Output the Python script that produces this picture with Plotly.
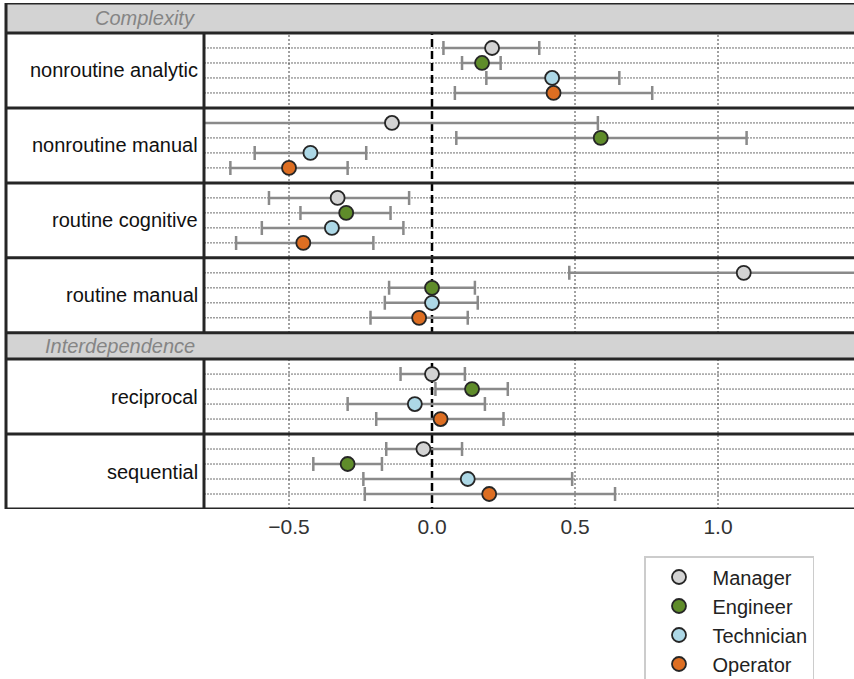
import plotly.graph_objects as go

# ---------------- data ----------------
groups = ["Complexity", "Interdependence"]
categories = ["nonroutine analytic", "nonroutine manual", "routine cognitive",
              "routine manual", "reciprocal", "sequential"]
category_group = ["Complexity", "Complexity", "Complexity", "Complexity",
                  "Interdependence", "Interdependence"]
roles = ["Manager", "Engineer", "Technician", "Operator"]
role_colors = ["#d3d3d3", "#5f8c2a", "#add8e6", "#dd6e22"]

estimate = {
    "Manager":    [0.21, -0.14, -0.33, 1.09, 0.00, -0.03],
    "Engineer":   [0.175, 0.59, -0.30, 0.00, 0.14, -0.295],
    "Technician": [0.42, -0.425, -0.35, 0.00, -0.06, 0.125],
    "Operator":   [0.425, -0.50, -0.45, -0.045, 0.03, 0.20],
}
lower = {
    "Manager":    [0.04, -0.86, -0.57, 0.48, -0.11, -0.16],
    "Engineer":   [0.105, 0.085, -0.46, -0.15, 0.012, -0.415],
    "Technician": [0.19, -0.62, -0.595, -0.165, -0.295, -0.24],
    "Operator":   [0.08, -0.705, -0.685, -0.215, -0.195, -0.235],
}
upper = {
    "Manager":    [0.375, 0.58, -0.08, 1.70, 0.115, 0.105],
    "Engineer":   [0.24, 1.10, -0.145, 0.15, 0.265, -0.175],
    "Technician": [0.655, -0.23, -0.10, 0.16, 0.185, 0.49],
    "Operator":   [0.77, -0.295, -0.205, 0.125, 0.25, 0.64],
}
xticks = [-0.5, 0.0, 0.5, 1.0]
xtick_labels = ["\u22120.5", "0.0", "0.5", "1.0"]

# ---------------- layout geometry (row units) ----------------
W, H = 854, 679
HEADER_H = {"Complexity": 2.0, "Interdependence": 1.75}
PANEL_H = 5.0
FONT = "Liberation Sans, Arial, sans-serif"
DARK = "#262626"

# compute y layout
header_pos = {}
panel_top = []
y = 0.0
prev_group = None
for cat, g in zip(categories, category_group):
    if g != prev_group:
        header_pos[g] = (y, y + HEADER_H[g])
        y += HEADER_H[g]
        prev_group = g
    panel_top.append(y)
    y += PANEL_H
y_total = y

top_px, bottom_px = 3, 509
left_px, divider_px = 6, 204
x_left = (divider_px - 432) / 286
x_right = (W - 432) / 286

fig = go.Figure()

for ri, role in enumerate(roles):
    ys = [pt + 1 + ri for pt in panel_top]
    est = estimate[role]
    fig.add_trace(go.Scatter(
        x=est, y=ys, mode="markers", name=role, legendgroup=role,
        marker=dict(size=14, color=role_colors[ri], line=dict(color=DARK, width=1.8)),
        error_x=dict(type="data", symmetric=False,
                     array=[u - e for u, e in zip(upper[role], est)],
                     arrayminus=[e - l for e, l in zip(est, lower[role])],
                     color="#8a8a8a", thickness=2.5, width=7),
        cliponaxis=True,
    ))

shapes = []
# horizontal dotted row gridlines
for pt in panel_top:
    for ri in range(len(roles)):
        shapes.append(dict(type="line", xref="x domain", yref="y", x0=0, x1=1,
                           y0=pt + 1 + ri, y1=pt + 1 + ri, layer="below",
                           line=dict(color="#6e6e6e", width=1, dash="2px,1px")))
# vertical dotted gridlines
for t in xticks:
    if t != 0:
        shapes.append(dict(type="line", xref="x", yref="y", x0=t, x1=t,
                           y0=0, y1=y_total, layer="below",
                           line=dict(color="#444444", width=1, dash="2px,2px")))
# zero dashed line
shapes.append(dict(type="line", xref="x", yref="y", x0=0, x1=0, y0=0, y1=y_total,
                   layer="between", line=dict(color="black", width=2.5, dash="8px,4px")))
# header bands
for g, (a, b) in header_pos.items():
    shapes.append(dict(type="rect", xref="paper", yref="y", x0=left_px / W, x1=1.01,
                       y0=a, y1=b, layer="above", fillcolor="#d3d3d3",
                       line=dict(width=0)))
# horizontal frame lines
hlines = set([0.0, y_total])
for g, (a, b) in header_pos.items():
    hlines.update([a, b])
for pt in panel_top:
    hlines.update([pt, pt + PANEL_H])
for hy in sorted(hlines):
    shapes.append(dict(type="line", xref="paper", yref="y", x0=left_px / W, x1=1.01,
                       y0=hy, y1=hy, layer="above", line=dict(color=DARK, width=3)))
# left frame
shapes.append(dict(type="line", xref="paper", yref="y", x0=left_px / W, x1=left_px / W,
                   y0=0, y1=y_total, layer="above", line=dict(color=DARK, width=3)))
# divider between label column and plot
for pt in panel_top:
    shapes.append(dict(type="line", xref="paper", yref="y", x0=divider_px / W, x1=divider_px / W,
                       y0=pt, y1=pt + PANEL_H, layer="above", line=dict(color=DARK, width=3)))

annotations = []
for cat, pt in zip(categories, panel_top):
    annotations.append(dict(text=cat, xref="paper", yref="y", x=200 / W, y=pt + PANEL_H / 2,
                            xanchor="right", yanchor="middle", showarrow=False,
                            font=dict(family=FONT, size=20, color="#111111")))
for g, (a, b) in header_pos.items():
    annotations.append(dict(text=g, xref="paper", yref="y", x=197 / W, y=(a + b) / 2,
                            xanchor="right", yanchor="middle", showarrow=False,
                            font=dict(family=FONT, size=20, color="#858585", style="italic")))

fig.update_layout(
    width=W, height=H,
    margin=dict(l=0, r=0, t=0, b=0, autoexpand=False),
    paper_bgcolor="white", plot_bgcolor="white",
    font=dict(family=FONT, size=20, color="#333333"),
    xaxis=dict(domain=[divider_px / W, 1], range=[x_left, x_right],
               tickvals=xticks, ticktext=xtick_labels, showgrid=False, zeroline=False,
               showline=False, ticks="", ticklabelstandoff=3,
               tickfont=dict(family=FONT, size=21, color="#333333")),
    yaxis=dict(domain=[(H - bottom_px) / H, (H - top_px) / H], range=[y_total, 0],
               showgrid=False, zeroline=False, showticklabels=False, ticks="", showline=False),
    shapes=shapes, annotations=annotations,
    showlegend=True,
    legend=dict(x=644 / W, y=1 - 556 / H, xanchor="left", yanchor="top",
                bordercolor="#cccccc", borderwidth=1.5, bgcolor="white",
                tracegroupgap=0, font=dict(family=FONT, size=20, color="#222222"),
                itemwidth=57),
)

fig.write_html("out.html")
